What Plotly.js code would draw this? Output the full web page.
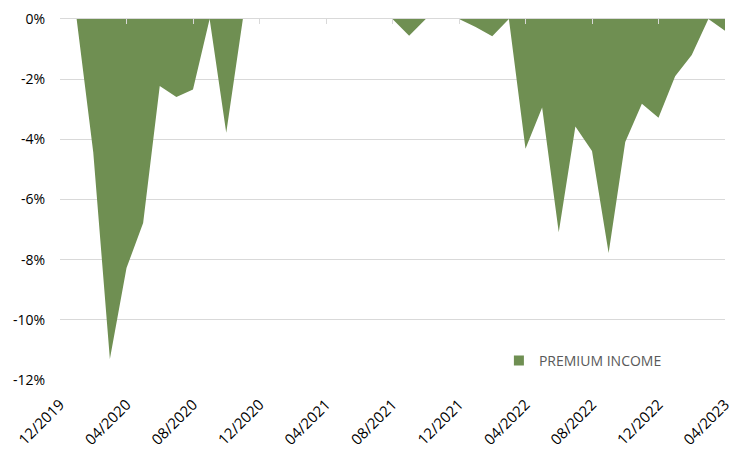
<!DOCTYPE html>
<html>
<head>
<meta charset="utf-8">
<script src="https://cdn.plot.ly/plotly-3.0.1.min.js"></script>
<style>html,body{margin:0;padding:0;background:#fff;}#chart{width:735px;height:449px;}</style>
</head>
<body>
<div id="chart"></div>
<script>
var months = ["12/2019","01/2020","02/2020","03/2020","04/2020","05/2020","06/2020","07/2020","08/2020","09/2020","10/2020","11/2020",
"12/2020","01/2021","02/2021","03/2021","04/2021","05/2021","06/2021","07/2021","08/2021","09/2021","10/2021","11/2021",
"12/2021","01/2022","02/2022","03/2022","04/2022","05/2022","06/2022","07/2022","08/2022","09/2022","10/2022","11/2022",
"12/2022","01/2023","02/2023","03/2023","04/2023"];
var premiumIncome = [0,0,-4.43,-11.3,-8.28,-6.78,-2.23,-2.59,-2.34,0,-3.78,0,
0,0,0,0,0,0,0,0,0,-0.56,0,0,
0,-0.27,-0.57,0,-4.31,-2.94,-7.09,-3.57,-4.39,-7.78,-4.09,-2.82,
-3.28,-1.9,-1.2,0,-0.39];
var tickLabels = ["12/2019","04/2020","08/2020","12/2020","04/2021","08/2021","12/2021","04/2022","08/2022","12/2022","04/2023"];
var yTicks = [0,-2,-4,-6,-8,-10,-12];
var yTickLabels = yTicks.map(function(v){return v + "%";});
var seriesName = "PREMIUM INCOME";
var green = "#6f8f52";

var traces = [
  {x: months, y: premiumIncome, type: "scatter", mode: "lines", fill: "tozeroy",
   fillcolor: green, line: {width: 0, color: green}, showlegend: false, hoverinfo: "skip"},
  {x: months, y: premiumIncome, type: "scatter", mode: "lines", xaxis: "x2",
   line: {width: 0}, opacity: 0, showlegend: false, hoverinfo: "skip"},
  {x: [null], y: [null], type: "scatter", mode: "markers", name: seriesName,
   marker: {symbol: "square", size: 10, color: green}}
];

var layout = {
  width: 735, height: 449,
  margin: {l: 60, r: 10, t: 19, b: 69},
  paper_bgcolor: "#fff", plot_bgcolor: "#fff",
  font: {family: "Open Sans, sans-serif", color: "#000"},
  xaxis: {type: "category", range: [0, 40], tickmode: "array", tickvals: tickLabels, ticktext: tickLabels,
          tickangle: -45, tickfont: {size: 15, color: "#000"}, showgrid: false, zeroline: false,
          showline: false, ticks: "", ticklabelstandoff: 12},
  xaxis2: {type: "category", overlaying: "x", side: "top", range: [0, 40], tickmode: "array",
           tickvals: tickLabels, showticklabels: false, ticks: "inside", ticklen: 5, tickcolor: "#d9d9d9",
           showline: true, linecolor: "#d9d9d9", linewidth: 1, showgrid: false, zeroline: false},
  yaxis: {range: [-12, 0], tickmode: "array", tickvals: yTicks, ticktext: yTickLabels,
          tickfont: {size: 14, color: "#000"}, showgrid: true, gridcolor: "#d9d9d9", gridwidth: 1,
          zeroline: false, showline: false, ticks: "", ticklabelstandoff: 14},
  showlegend: true,
  legend: {x: 0.66, y: 0.053, xanchor: "left", yanchor: "middle", bgcolor: "rgba(0,0,0,0)",
           font: {size: 14, color: "#595959"}, itemwidth: 30}
};

Plotly.newPlot("chart", traces, layout, {displayModeBar: false, staticPlot: true});
</script>
</body>
</html>
